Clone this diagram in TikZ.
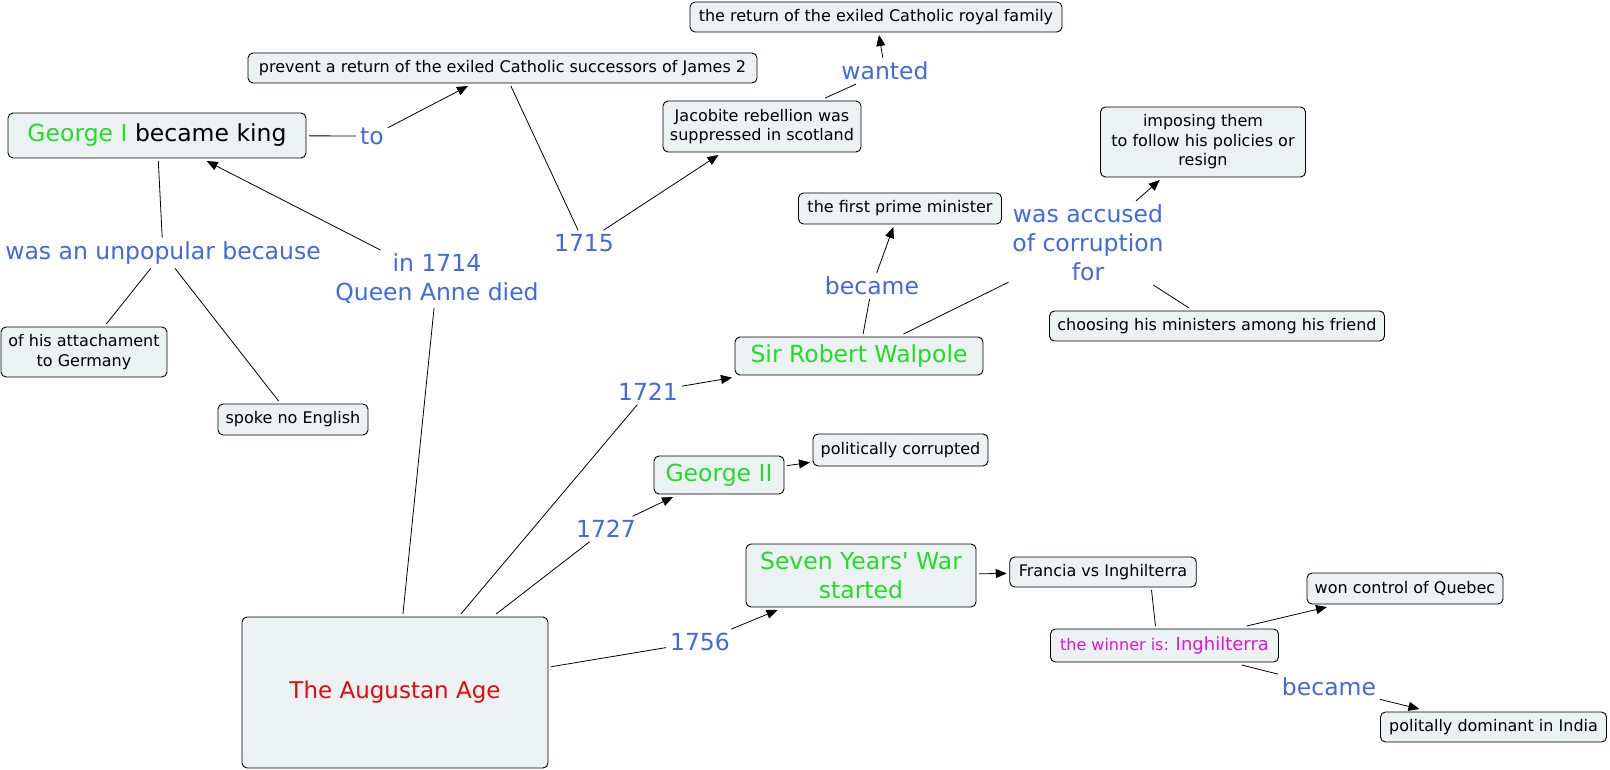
\documentclass[tikz,border=0pt]{standalone}
\usepackage{fontspec}
\setmainfont{DejaVu Sans}[Ligatures=TeXOff]
\usetikzlibrary{arrows.meta}
\definecolor{boxfill}{RGB}{236,242,243}
\definecolor{lblue}{RGB}{65,105,225}
\definecolor{cgreen}{RGB}{34,221,34}
\definecolor{cred}{RGB}{228,10,10}
\definecolor{cmag}{RGB}{220,20,220}
\begin{document}
\begin{tikzpicture}[x=1pt,y=-1pt,
  box/.style={draw=black, line width=0.9pt, fill=boxfill, rounded corners=5pt,
    inner sep=2pt, outer sep=3pt, align=center,
    font=\fontsize{16}{19.5}\selectfont, text=black},
  bigtext/.style={font=\fontsize{23.5}{29}\selectfont},
  lbl/.style={text=lblue, font=\fontsize{23.5}{29}\selectfont,
    inner xsep=4pt, inner ysep=4pt, outer sep=0pt, align=center},
  con/.style={line width=0.8pt, draw=black},
  arr/.style={con, -{Triangle[length=11pt,width=9pt]}}]
\fill[white] (0,0) rectangle (1610,770);
\useasboundingbox (0,0) rectangle (1610,770);

% concept boxes
\node[box, minimum width=372pt, minimum height=30pt] (ret) at (876,17) {the return of the exiled Catholic royal family};
\node[box, minimum width=509pt, minimum height=30pt] (prev) at (502.5,68) {prevent a return of the exiled Catholic successors of James 2};
\node[box, bigtext, minimum width=298pt, minimum height=45pt] (g1) at (157,135.5) {\textcolor{cgreen}{George I} became king};
\node[box, minimum width=198pt, minimum height=51pt] (jac) at (762,126.5) {Jacobite rebellion was\\suppressed in scotland};
\node[box, minimum width=205pt, minimum height=70pt] (imp) at (1203,142) {imposing them\\ to follow his policies or\\resign};
\node[box, minimum width=203pt, minimum height=31pt] (fpm) at (900,208.5) {the first prime minister};
\node[box, minimum width=335pt, minimum height=30pt] (cho) at (1217,326) {choosing his ministers among his friend};
\node[box, bigtext, text=cgreen, minimum width=248pt, minimum height=38pt] (wal) at (859,356) {Sir Robert Walpole};
\node[box, minimum width=166pt, minimum height=50pt] (att) at (84,352) {of his attachament\\to Germany};
\node[box, minimum width=150pt, minimum height=31pt] (spk) at (293,419.5) {spoke no English};
\node[box, bigtext, text=cgreen, minimum width=130pt, minimum height=38pt] (g2) at (719,475) {George II};
\node[box, minimum width=175pt, minimum height=32pt] (pc) at (900.5,450) {politically corrupted};
\node[box, bigtext, text=cgreen, minimum width=230pt, minimum height=63pt] (syw) at (861,575.5) {Seven Years' War\\started};
\node[box, font=\fontsize{23}{28}\selectfont, text=cred, minimum width=306pt, minimum height=151pt] (aug) at (395,692.5) {The Augustan Age};
\node[box, minimum width=186.5pt, minimum height=30pt] (fra) at (1103,572) {Francia vs Inghilterra};
\node[box, minimum width=196pt, minimum height=31pt] (que) at (1405,588.5) {won control of Quebec};
\node[box, text=cmag, minimum width=228pt, minimum height=33pt] (win) at (1164.5,645.5) {the winner is: {\fontsize{18}{21}\selectfont Inghilterra}};
\node[box, minimum width=226pt, minimum height=30pt] (ind) at (1493.5,727) {politally dominant in India};

% linking phrases
\node[lbl] (lto) at (372,136) {to};
\node[lbl] (lunp) at (163,253) {was an unpopular because};
\node[lbl] (l1714) at (437,279) {in 1714\\Queen Anne died};
\node[lbl] (l1715) at (584,243) {1715};
\node[lbl] (lwant) at (885,71) {wanted};
\node[lbl] (lbec1) at (872,286) {became};
\node[lbl] (lacc) at (1088,243) {was accused\\of corruption\\for};
\node[lbl] (l1721) at (648,392) {1721};
\node[lbl] (l1727) at (606,529) {1727};
\node[lbl] (l1756) at (700,642) {1756};
\node[lbl] (lbec2) at (1329,687) {became};

% connectors
\draw[con] (g1) -- (lto);
\draw[arr] (lto) -- (prev);
\draw[con] (g1) -- (lunp);
\draw[con] (lunp) -- (att);
\draw[con] (lunp) -- (spk);
\draw[con] (aug) -- (l1714);
\draw[arr] (l1714) -- (g1);
\draw[con] (prev) -- (l1715);
\draw[arr] (l1715) -- (jac);
\draw[con] (jac) -- (lwant);
\draw[arr] (lwant) -- (ret);
\draw[con] (aug) -- (l1721);
\draw[arr] (l1721) -- (wal);
\draw[con] (wal) -- (lbec1);
\draw[arr] (lbec1) -- (fpm);
\draw[con] (wal) -- (lacc);
\draw[arr] (lacc) -- (imp);
\draw[con] (lacc) -- (cho);
\draw[con] (aug) -- (l1727);
\draw[arr] (l1727) -- (g2);
\draw[arr] (g2) -- (pc);
\draw[con] (aug) -- (l1756);
\draw[arr] (l1756) -- (syw);
\draw[arr] (syw) -- (fra);
\draw[con] ([xshift=-9pt]win.north) -- ([xshift=-13pt]win.north |- fra.south);
\draw[arr] (win) -- (que);
\draw[con] (win) -- (lbec2);
\draw[arr] (lbec2) -- (ind);
\end{tikzpicture}
\end{document}
